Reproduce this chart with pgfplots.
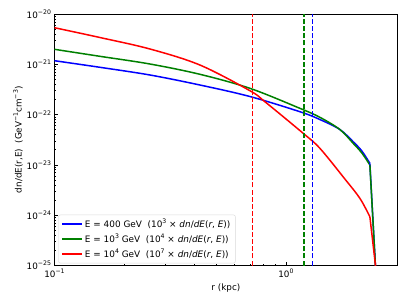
\documentclass[border=0pt]{standalone}
\usepackage{pgfplots}
\pgfplotsset{compat=1.18}
\usepackage{fontspec}
\setmainfont{DejaVu Sans}
\newcommand\sups[1]{\raisebox{0.42em}{\fontsize{6.2}{7}\selectfont #1}}
\definecolor{mblue}{RGB}{0,0,255}
\definecolor{mgreen}{RGB}{0,128,0}
\definecolor{mred}{RGB}{255,0,0}
\begin{document}
\begin{tikzpicture}
\path[use as bounding box] (-54.5pt,-39.5pt) rectangle (352.5pt,265.5pt);
\begin{axis}[
  at={(0pt,0pt)}, anchor=south west, scale only axis,
  width=342.8pt, height=251.5pt,
  xmode=log, ymode=log,
  xmin=0.1, xmax=3.03, ymin=1e-25, ymax=1e-20,
  font=\fontsize{8.8}{10.5}\selectfont,
  tick label style={font=\fontsize{8.8}{10.5}\selectfont},
  axis line style={line width=0.7pt},
  tick style={line width=0.6pt, black},
  tick align=inside, xtick pos=left, ytick pos=left,
  major tick length=3.1pt, minor tick length=1.8pt,
  xtick={0.1,1}, xticklabels={10\sups{−1},10\sups{0}},
  ytick={1e-25,1e-24,1e-23,1e-22,1e-21,1e-20},
  yticklabels={10\sups{−25},10\sups{−24},10\sups{−23},10\sups{−22},10\sups{−21},10\sups{−20}},
  xlabel={r (kpc)},
  ylabel={dn/dE(r,E)\ \ (GeV\sups{−1}cm\sups{−3})},
  xlabel style={at={(axis description cs:0.5,-0.0907)}, anchor=center},
  ylabel style={at={(axis description cs:-0.1065,0.5)}, anchor=center},
  legend style={at={(axis description cs:0.011,0.0087)}, anchor=south west,
    draw=black!15, rounded corners=2pt, fill=white, fill opacity=0.8, text opacity=1,
    font=\fontsize{8.9}{10.5}\selectfont, row sep=1.4pt, inner xsep=3pt, inner ysep=2pt},
  legend cell align=left,
  legend image code/.code={\draw[#1] (0pt,0pt) -- (20pt,0pt);},
]
\addplot[mblue, line width=1.5pt, smooth, tension=0.55] coordinates {
(0.1,1.179e-21) (0.1572,8.72e-22) (0.2586,6.13e-22) (0.4251,3.878e-22) (0.6990,2.29e-22)
(1.1493,1.142e-22) (1.4026,7.99e-23) (1.7112,5.055e-23) (1.9530,2.891e-23)
(2.1297,1.889e-23) (2.3064,1.076e-23)};
\addlegendentry{E = 400 GeV\ \ (10\sups{3} × \textit{dn}/\textit{dE}(\textit{r}, \textit{E}))}
\addplot[mgreen, line width=1.5pt, smooth, tension=0.55] coordinates {
(0.1,1.987e-21) (0.1572,1.442e-21) (0.2586,1.014e-21) (0.4251,6.33e-22) (0.6990,3.333e-22)
(1.1493,1.334e-22) (1.4026,8.84e-23) (1.7112,5.055e-23) (1.9530,2.688e-23)
(2.1297,1.724e-23) (2.3064,9.95e-24)};
\addlegendentry{E = 10\sups{3} GeV\ \ (10\sups{4} × \textit{dn}/\textit{dE}(\textit{r}, \textit{E}))}
\addplot[mred, line width=1.5pt, smooth, tension=0.55] coordinates {
(0.1,5.34e-21) (0.1572,3.41e-21) (0.2586,2.015e-21) (0.4251,9.68e-22) (0.6990,2.986e-22)
(0.8114,1.805e-22) (1.1877,4.25e-23) (1.4026,2.138e-23) (1.7985,5.245e-24)
(2.0878,2.168e-24) (2.3064,9.34e-25)};
\addlegendentry{E = 10\sups{4} GeV\ \ (10\sups{7} × \textit{dn}/\textit{dE}(\textit{r}, \textit{E}))}
\addplot[mblue, line width=1.5pt, forget plot] coordinates {(2.3064,1.076e-23) (2.44,9e-26)};
\addplot[mgreen, line width=1.5pt, forget plot] coordinates {(2.3064,9.95e-24) (2.44,9e-26)};
\addplot[mred, line width=1.5pt, forget plot] coordinates {(2.3064,9.34e-25) (2.445,9e-26)};
\addplot[mred, line width=1.5pt, dash pattern=on 5pt off 2.1pt, forget plot] coordinates {(0.718,1e-25) (0.718,1e-20)};
\addplot[mgreen, line width=1.5pt, dash pattern=on 5pt off 2.1pt, forget plot] coordinates {(1.196,1e-25) (1.196,1e-20)};
\addplot[mblue, line width=1.5pt, dash pattern=on 5pt off 2.1pt, forget plot] coordinates {(1.304,1e-25) (1.304,1e-20)};
\end{axis}
\end{tikzpicture}
\end{document}
